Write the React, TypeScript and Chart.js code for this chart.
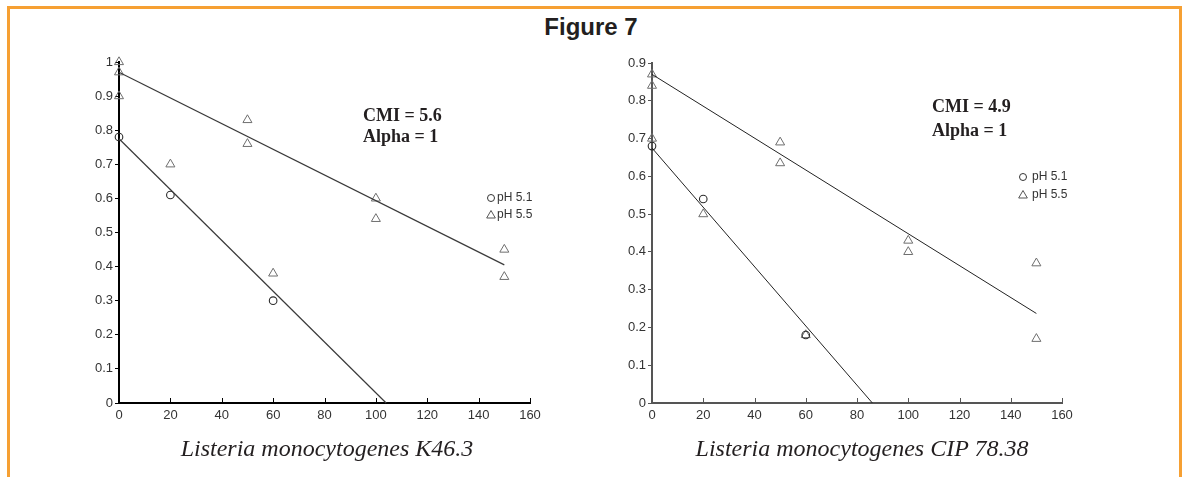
import React, { useEffect, useRef } from 'react';
import { Chart, registerables } from 'chart.js';

Chart.register(...registerables);

type Pt = { x: number; y: number };

// ---- Listeria monocytogenes K46.3 ----
const k46Ph51: Pt[] = [
  { x: 0, y: 0.78 },
  { x: 20, y: 0.61 },
  { x: 60, y: 0.3 },
];
const k46Ph55: Pt[] = [
  { x: 0, y: 1.0 },
  { x: 0, y: 0.97 },
  { x: 0, y: 0.9 },
  { x: 20, y: 0.7 },
  { x: 50, y: 0.83 },
  { x: 50, y: 0.76 },
  { x: 60, y: 0.38 },
  { x: 100, y: 0.6 },
  { x: 100, y: 0.54 },
  { x: 150, y: 0.45 },
  { x: 150, y: 0.37 },
];
const k46FitPh51: Pt[] = [
  { x: 0, y: 0.775 },
  { x: 104, y: 0 },
];
const k46FitPh55: Pt[] = [
  { x: 0, y: 0.97 },
  { x: 150, y: 0.405 },
];
const k46Notes = ['CMI = 5.6', 'Alpha = 1'];
const k46Caption = 'Listeria monocytogenes K46.3';

// ---- Listeria monocytogenes CIP 78.38 ----
const cipPh51: Pt[] = [
  { x: 0, y: 0.68 },
  { x: 20, y: 0.54 },
  { x: 60, y: 0.18 },
];
const cipPh55: Pt[] = [
  { x: 0, y: 0.87 },
  { x: 0, y: 0.84 },
  { x: 0, y: 0.7 },
  { x: 20, y: 0.5 },
  { x: 50, y: 0.69 },
  { x: 50, y: 0.635 },
  { x: 60, y: 0.18 },
  { x: 100, y: 0.43 },
  { x: 100, y: 0.4 },
  { x: 150, y: 0.37 },
  { x: 150, y: 0.17 },
];
const cipFitPh51: Pt[] = [
  { x: 0, y: 0.675 },
  { x: 86, y: 0 },
];
const cipFitPh55: Pt[] = [
  { x: 0, y: 0.87 },
  { x: 150, y: 0.237 },
];
const cipNotes = ['CMI = 4.9', 'Alpha = 1'];
const cipCaption = 'Listeria monocytogenes CIP 78.38';

// ---- shared axes / legend ----
const xTickValues = [0, 20, 40, 60, 80, 100, 120, 140, 160];
const xTickLabels = ['0', '20', '40', '60', '80', '100', '120', '140', '160'];
const yTickValuesK46 = [0, 0.1, 0.2, 0.3, 0.4, 0.5, 0.6, 0.7, 0.8, 0.9, 1];
const yTickLabelsK46 = ['0', '0.1', '0.2', '0.3', '0.4', '0.5', '0.6', '0.7', '0.8', '0.9', '1'];
const yTickValuesCip = [0, 0.1, 0.2, 0.3, 0.4, 0.5, 0.6, 0.7, 0.8, 0.9];
const yTickLabelsCip = ['0', '0.1', '0.2', '0.3', '0.4', '0.5', '0.6', '0.7', '0.8', '0.9'];
const legendLabels = ['pH 5.1', 'pH 5.5'];
const figureTitle = 'Figure 7';

const PAGE_W = 1185;
const PAGE_H = 477;
const TEXT = '#231f20';
const SANS = '"Liberation Sans", Arial, Helvetica, sans-serif';
const SERIF = '"Liberation Serif", "Times New Roman", serif';

type PanelProps = {
  canvasLeft: number;
  canvasWidth: number;
  plot: { left: number; right: number; top: number; bottom: number };
  yMax: number;
  yTicks: number[];
  yLabels: string[];
  ph51: Pt[];
  ph55: Pt[];
  fit51: Pt[];
  fit55: Pt[];
  axisColor: string;
  lineColor: string;
  lineWidth: number;
  notes: string[];
  notesAt: { x: number; y1: number; y2: number };
  legendAt: { x: number; y1: number; y2: number; textX: number };
};

function drawTriangle(ctx: CanvasRenderingContext2D, x: number, y: number, r: number) {
  let rad = 0;
  ctx.beginPath();
  ctx.moveTo(x + Math.sin(rad) * r, y - Math.cos(rad) * r);
  rad += (2 * Math.PI) / 3;
  ctx.lineTo(x + Math.sin(rad) * r, y - Math.cos(rad) * r);
  rad += (2 * Math.PI) / 3;
  ctx.lineTo(x + Math.sin(rad) * r, y - Math.cos(rad) * r);
  ctx.closePath();
  ctx.stroke();
}

function Panel(p: PanelProps) {
  const ref = useRef<HTMLCanvasElement | null>(null);

  useEffect(() => {
    const canvas = ref.current;
    if (!canvas) return;
    const off = p.canvasLeft;

    // MATLAB-style inward ticks on the x axis, plus notes and legend
    const decorations = {
      id: 'panelDecorations',
      afterDraw(chart: any) {
        const { ctx, chartArea, scales } = chart;
        ctx.save();
        ctx.strokeStyle = p.axisColor;
        ctx.lineWidth = 1;
        for (const v of xTickValues) {
          const px = Math.round(scales.x.getPixelForValue(v)) + 0.5;
          ctx.beginPath();
          ctx.moveTo(px, chartArea.bottom);
          ctx.lineTo(px, chartArea.bottom - 5);
          ctx.stroke();
        }

        ctx.fillStyle = TEXT;
        ctx.font = `bold 18px ${SERIF}`;
        ctx.textAlign = 'left';
        ctx.textBaseline = 'alphabetic';
        ctx.fillText(p.notes[0], p.notesAt.x - off, p.notesAt.y1);
        ctx.fillText(p.notes[1], p.notesAt.x - off, p.notesAt.y2);

        ctx.strokeStyle = '#333';
        ctx.lineWidth = 1;
        ctx.beginPath();
        ctx.arc(p.legendAt.x - off, p.legendAt.y1, 3.5, 0, Math.PI * 2);
        ctx.stroke();
        ctx.strokeStyle = '#555';
        drawTriangle(ctx, p.legendAt.x - off, p.legendAt.y2 + 0.5, 5);
        ctx.fillStyle = '#333';
        ctx.font = `12px ${SANS}`;
        ctx.textBaseline = 'middle';
        ctx.fillText(legendLabels[0], p.legendAt.textX - off, p.legendAt.y1);
        ctx.fillText(legendLabels[1], p.legendAt.textX - off, p.legendAt.y2);
        ctx.restore();
      },
    };

    const tickFont = { family: SANS, size: 13 };
    const chart = new Chart(canvas, {
      type: 'scatter',
      data: {
        datasets: [
          {
            data: p.fit51,
            showLine: true,
            borderColor: p.lineColor,
            borderWidth: p.lineWidth,
            pointRadius: 0,
            clip: false,
          },
          {
            data: p.fit55,
            showLine: true,
            borderColor: p.lineColor,
            borderWidth: p.lineWidth,
            pointRadius: 0,
            clip: false,
          },
          {
            label: legendLabels[0],
            data: p.ph51,
            pointStyle: 'circle',
            pointRadius: 3.8,
            borderColor: '#2b2b2b',
            backgroundColor: 'rgba(0,0,0,0)',
            borderWidth: 1.1,
            clip: false,
          },
          {
            label: legendLabels[1],
            data: p.ph55,
            pointStyle: 'triangle',
            pointRadius: 5.2,
            borderColor: '#6e6e6e',
            backgroundColor: 'rgba(0,0,0,0)',
            borderWidth: 1,
            clip: false,
          },
        ] as any,
      },
      options: {
        animation: false,
        responsive: false,
        maintainAspectRatio: false,
        devicePixelRatio: 1,
        events: [],
        layout: {
          padding: {
            left: 0,
            top: p.plot.top,
            right: p.canvasWidth - (p.plot.right - off),
            bottom: 0,
          },
        },
        plugins: {
          legend: { display: false },
          tooltip: { enabled: false },
          title: { display: false },
        },
        scales: {
          x: {
            type: 'linear',
            min: 0,
            max: 160,
            afterBuildTicks: (s: any) => {
              s.ticks = xTickValues.map((v) => ({ value: v }));
            },
            afterFit: (s: any) => {
              s.height = PAGE_H - p.plot.bottom;
            },
            ticks: {
              autoSkip: false,
              maxRotation: 0,
              padding: 5,
              color: '#333',
              font: tickFont,
              callback: (_v: any, i: number) => xTickLabels[i],
            },
            grid: { display: true, drawOnChartArea: false, drawTicks: false },
            border: { display: true, color: p.axisColor, width: 2 },
          },
          y: {
            type: 'linear',
            min: 0,
            max: p.yMax,
            afterBuildTicks: (s: any) => {
              s.ticks = p.yTicks.map((v) => ({ value: v }));
            },
            afterFit: (s: any) => {
              s.width = p.plot.left - off;
            },
            ticks: {
              autoSkip: false,
              padding: 2,
              color: '#333',
              font: tickFont,
              callback: (_v: any, i: number) => p.yLabels[i],
            },
            grid: {
              display: true,
              drawOnChartArea: false,
              drawTicks: true,
              tickLength: 4,
              tickColor: p.axisColor,
              tickWidth: 1,
            },
            border: { display: true, color: p.axisColor, width: 2 },
          },
        },
      } as any,
      plugins: [decorations],
    });
    return () => chart.destroy();
  }, []);

  return (
    <canvas
      ref={ref}
      width={p.canvasWidth}
      height={PAGE_H}
      style={{
        position: 'absolute',
        left: p.canvasLeft,
        top: 0,
        width: p.canvasWidth,
        height: PAGE_H,
      }}
    />
  );
}

export default function App() {
  return (
    <div
      style={{
        position: 'fixed',
        left: 0,
        top: 0,
        width: PAGE_W,
        height: PAGE_H,
        background: '#ffffff',
        overflow: 'hidden',
      }}
    >
      <div
        style={{
          position: 'absolute',
          left: 7,
          top: 6,
          width: 1169,
          height: 468,
          borderTop: '3px solid #f6a033',
          borderLeft: '3px solid #f6a033',
          borderRight: '3px solid #f6a033',
        }}
      />
      <div
        style={{
          position: 'absolute',
          left: 391,
          top: 15,
          width: 400,
          textAlign: 'center',
          font: `bold 24px ${SANS}`,
          lineHeight: '24px',
          color: TEXT,
        }}
      >
        {figureTitle}
      </div>
      <Panel
        canvasLeft={0}
        canvasWidth={570}
        plot={{ left: 119, right: 530, top: 62, bottom: 403 }}
        yMax={1}
        yTicks={yTickValuesK46}
        yLabels={yTickLabelsK46}
        ph51={k46Ph51}
        ph55={k46Ph55}
        fit51={k46FitPh51}
        fit55={k46FitPh55}
        axisColor="#000000"
        lineColor="#3a3a3a"
        lineWidth={1.2}
        notes={k46Notes}
        notesAt={{ x: 363, y1: 121, y2: 142 }}
        legendAt={{ x: 491, y1: 198, y2: 215, textX: 497 }}
      />
      <Panel
        canvasLeft={580}
        canvasWidth={605}
        plot={{ left: 652, right: 1062, top: 63, bottom: 403 }}
        yMax={0.9}
        yTicks={yTickValuesCip}
        yLabels={yTickLabelsCip}
        ph51={cipPh51}
        ph55={cipPh55}
        fit51={cipFitPh51}
        fit55={cipFitPh55}
        axisColor="#555555"
        lineColor="#222222"
        lineWidth={1}
        notes={cipNotes}
        notesAt={{ x: 932, y1: 112, y2: 136 }}
        legendAt={{ x: 1023, y1: 177, y2: 195, textX: 1032 }}
      />
      <div
        style={{
          position: 'absolute',
          left: 127,
          top: 436,
          width: 400,
          textAlign: 'center',
          font: `italic 24px ${SERIF}`,
          lineHeight: '24px',
          color: TEXT,
        }}
      >
        {k46Caption}
      </div>
      <div
        style={{
          position: 'absolute',
          left: 662,
          top: 436,
          width: 400,
          textAlign: 'center',
          font: `italic 24px ${SERIF}`,
          lineHeight: '24px',
          color: TEXT,
        }}
      >
        {cipCaption}
      </div>
    </div>
  );
}
